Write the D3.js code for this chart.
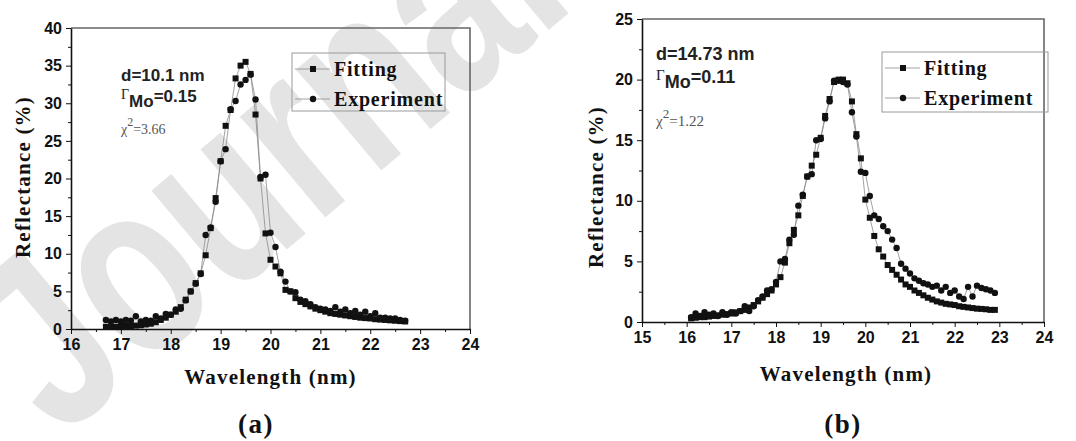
<!DOCTYPE html>
<html>
<head>
<meta charset="utf-8">
<script src="https://cdn.jsdelivr.net/npm/d3@7/dist/d3.min.js"></script>
<style>
  body { margin: 0; background: #fff; }
  svg { display: block; }
  .tick text { font-family: "Liberation Sans", Arial, sans-serif; font-weight: bold; font-size: 16px; fill: #111; }
  .axis path, .axis line { stroke: #111; }
  .ttl { font-family: "Liberation Serif", "Times New Roman", serif; font-weight: bold; fill: #111; }
</style>
</head>
<body>
<svg id="chart" width="1076" height="441"></svg>
<script>
// ---- panel (a) data ----
const waveA = [16.7,16.8,16.9,17.0,17.1,17.2,17.3,17.4,17.5,17.6,17.7,17.8,17.9,18.0,18.1,18.2,18.3,18.4,18.5,18.6,
  18.7,18.8,18.9,19.0,19.1,19.2,19.3,19.4,19.5,19.6,19.7,19.8,19.9,20.0,20.1,20.2,20.3,20.4,20.5,20.6,
  20.7,20.8,20.9,21.0,21.1,21.2,21.3,21.4,21.5,21.6,21.7,21.8,21.9,22.0,22.1,22.2,22.3,22.4,22.5,22.6,22.7];
const fitA = [0.3,0.3,0.3,0.35,0.4,0.4,0.45,0.5,0.6,0.7,0.9,1.2,1.5,1.9,2.3,2.9,3.9,5.0,6.1,7.4,
  9.8,13.4,17.4,22.3,27.0,29.1,33.3,35.0,35.5,33.9,28.5,20.0,12.7,9.2,8.3,7.4,5.2,5.0,4.1,3.6,
  3.3,3.0,2.7,2.5,2.3,2.1,2.0,1.9,1.8,1.7,1.6,1.5,1.45,1.4,1.3,1.25,1.2,1.15,1.1,1.05,1.0];
const expA = [1.2,1.0,1.2,1.0,1.2,1.1,1.7,1.0,1.2,1.1,1.7,1.4,2.0,1.9,2.6,2.7,3.8,5.0,6.0,7.3,
  12.5,13.5,16.9,22.3,23.9,29.2,30.3,32.5,33.1,33.8,30.5,20.2,20.5,12.8,10.9,7.6,6.3,5.0,4.9,3.9,
  3.7,3.3,2.9,2.7,2.6,2.4,2.9,2.3,2.6,2.1,2.4,1.9,2.3,1.7,2.1,1.5,1.5,1.4,1.4,1.2,1.1];
const xTicksA = [16,17,18,19,20,21,22,23,24];
const yTicksA = [0,5,10,15,20,25,30,35,40];

// ---- panel (b) data ----
const waveB = [16.1,16.2,16.3,16.4,16.5,16.6,16.7,16.8,16.9,17.0,17.1,17.2,17.3,17.4,17.5,17.6,17.7,17.8,17.9,18.0,
  18.1,18.2,18.3,18.4,18.5,18.6,18.7,18.8,18.9,19.0,19.1,19.2,19.3,19.4,19.5,19.6,19.7,19.8,19.9,20.0,
  20.1,20.2,20.3,20.4,20.5,20.6,20.7,20.8,20.9,21.0,21.1,21.2,21.3,21.4,21.5,21.6,21.7,21.8,21.9,22.0,
  22.1,22.2,22.3,22.4,22.5,22.6,22.7,22.8,22.9];
const fitB = [0.3,0.35,0.4,0.4,0.45,0.5,0.55,0.6,0.65,0.7,0.8,0.9,1.0,1.2,1.4,1.7,2.0,2.3,2.6,3.1,
  3.7,4.9,6.5,7.6,8.8,10.4,12.0,12.9,13.8,15.2,17.0,18.4,19.8,20.0,20.0,19.7,18.2,15.5,13.5,10.1,
  8.6,7.1,6.0,5.4,4.7,4.3,3.9,3.5,3.1,2.9,2.6,2.4,2.2,2.0,1.85,1.7,1.6,1.5,1.45,1.4,
  1.3,1.25,1.2,1.15,1.1,1.08,1.05,1.0,1.0];
const expB = [0.4,0.7,0.5,0.8,0.6,0.7,0.5,0.8,0.6,0.8,0.7,0.9,1.3,0.9,1.3,1.8,2.1,2.6,2.7,3.3,
  5.0,5.2,6.8,7.2,9.6,10.5,12.0,12.2,15.0,15.1,16.8,18.2,19.9,19.9,19.8,19.6,17.3,15.3,12.4,12.3,
  10.4,8.8,8.5,7.9,7.5,6.8,6.1,4.8,4.4,4.0,3.6,3.4,3.2,3.1,2.9,3.0,2.6,2.9,2.4,2.6,
  2.1,1.9,2.9,2.1,3.0,2.8,2.7,2.6,2.4];
const xTicksB = [15,16,17,18,19,20,21,22,23,24];
const yTicksB = [0,5,10,15,20,25];

const seriesNames = ["Fitting", "Experiment"];

const svg = d3.select("#chart");
svg.append("rect").attr("width", 1076).attr("height", 441).attr("fill", "#fff");

// watermark behind everything (cut by the top edge like the original)
svg.append("text")
  .attr("transform", "translate(60,440) rotate(-40) scale(0.75,1)")
  .attr("font-family", "Liberation Sans, Arial, sans-serif")
  .attr("font-weight", "bold")
  .attr("font-size", 250)
  .attr("fill", "#e4e4e4")
  .text("Journal");

function drawPanel(p) {
  const x = d3.scaleLinear().domain(d3.extent(p.xTicks)).range([p.left, p.right]);
  const y = d3.scaleLinear().domain(d3.extent(p.yTicks)).range([p.bottom, p.top]);
  const g = svg.append("g");

  // gray frame top/right
  g.append("path")
    .attr("d", `M${p.left},${p.top}H${p.right}V${p.bottom}`)
    .attr("fill", "none").attr("stroke", "#666").attr("stroke-width", 1.6);

  // minor ticks
  const xMinor = p.xTicks.slice(0, -1).map(v => v + 0.5);
  const yStep = p.yTicks[1] - p.yTicks[0];
  const yMinor = p.yTicks.slice(0, -1).map(v => v + yStep / 2);
  g.append("g").attr("class", "axis").attr("transform", `translate(0,${p.bottom})`)
    .call(d3.axisBottom(x).tickValues(xMinor).tickSize(3).tickFormat(""))
    .call(a => a.select(".domain").remove());
  g.append("g").attr("class", "axis").attr("transform", `translate(${p.left},0)`)
    .call(d3.axisLeft(y).tickValues(yMinor).tickSize(3).tickFormat(""))
    .call(a => a.select(".domain").remove());

  // major axes
  g.append("g").attr("class", "axis").attr("transform", `translate(0,${p.bottom})`)
    .call(d3.axisBottom(x).tickValues(p.xTicks).tickSize(5).tickSizeOuter(0).tickPadding(5).tickFormat(d3.format("d")))
    .call(a => a.select(".domain").attr("stroke-width", 1.6));
  g.append("g").attr("class", "axis").attr("transform", `translate(${p.left},0)`)
    .call(d3.axisLeft(y).tickValues(p.yTicks).tickSize(5).tickSizeOuter(0).tickPadding(4).tickFormat(d3.format("d")))
    .call(a => a.select(".domain").attr("stroke-width", 1.6));

  // axis titles
  g.append("text").attr("class", "ttl")
    .attr("x", (p.left + p.right) / 2 + p.xTitleDx).attr("y", p.xTitleY)
    .attr("text-anchor", "middle").attr("font-size", 21).attr("letter-spacing", 1.2)
    .text("Wavelength (nm)");
  g.append("text").attr("class", "ttl")
    .attr("transform", `translate(${p.yTitleX},${p.yTitleCy}) rotate(-90)`)
    .attr("text-anchor", "middle").attr("font-size", 21).attr("letter-spacing", 1.2)
    .text("Reflectance (%)");

  // lines + markers
  const line = d3.line().x(d => x(d[0])).y(d => y(d[1]));
  const fitPts = p.wave.map((w, i) => [w, p.fit[i]]);
  const expPts = p.wave.map((w, i) => [w, p.exp[i]]);
  [fitPts, expPts].forEach(pts => {
    g.append("path").datum(pts).attr("d", line)
      .attr("fill", "none").attr("stroke", "#8a8a8a").attr("stroke-width", 0.8);
  });
  g.append("g").selectAll("rect").data(fitPts).join("rect")
    .attr("x", d => x(d[0]) - 3).attr("y", d => y(d[1]) - 3)
    .attr("width", 6).attr("height", 6).attr("fill", "#111");
  g.append("g").selectAll("circle").data(expPts).join("circle")
    .attr("cx", d => x(d[0])).attr("cy", d => y(d[1])).attr("r", 3.2).attr("fill", "#111");

  // legend
  const L = p.legend;
  g.append("rect").attr("x", L.x).attr("y", L.y).attr("width", L.w).attr("height", L.h)
    .attr("fill", "none").attr("stroke", "#9a9a9a").attr("stroke-width", 1);
  seriesNames.forEach((name, i) => {
    const cy = L.y + 16 + i * 30;
    g.append("line").attr("x1", L.x + 3).attr("x2", L.x + 38).attr("y1", cy).attr("y2", cy)
      .attr("stroke", "#8a8a8a").attr("stroke-width", 0.8);
    if (i === 0) {
      g.append("rect").attr("x", L.x + 18).attr("y", cy - 3).attr("width", 6).attr("height", 6).attr("fill", "#111");
    } else {
      g.append("circle").attr("cx", L.x + 21).attr("cy", cy).attr("r", 3.2).attr("fill", "#111");
    }
    g.append("text").attr("class", "ttl").attr("x", L.x + 42).attr("y", cy + 7)
      .attr("font-size", 20).attr("letter-spacing", 0.8).text(name);
  });

  // annotations
  const A = p.note;
  const sans = "Liberation Sans, Arial, sans-serif";
  g.append("text").attr("x", A.x).attr("y", A.y1)
    .attr("font-family", sans).attr("font-weight", "bold").attr("font-size", A.fs).attr("fill", "#222")
    .text(A.d);
  const t2 = g.append("text").attr("x", A.x).attr("y", A.y2)
    .attr("font-family", sans).attr("font-weight", "bold").attr("font-size", A.fs).attr("fill", "#222");
  t2.append("tspan").attr("font-family", "Liberation Serif, serif").attr("font-weight", "normal")
    .attr("font-size", A.fs - 3).attr("dy", -3).text("Γ");
  t2.append("tspan").attr("dy", 8).text("Mo");
  t2.append("tspan").attr("dy", -5).text(A.gamma);
  const t3 = g.append("text").attr("x", A.x).attr("y", A.y3)
    .attr("font-family", "Liberation Serif, serif").attr("font-size", A.fs - 3).attr("fill", "#555");
  t3.append("tspan").text("χ");
  t3.append("tspan").attr("dy", -8).attr("font-size", A.fs - 5).text("2");
  t3.append("tspan").attr("dy", 8).text(A.chi);

  // caption
  svg.append("text").attr("class", "ttl").attr("x", p.capX).attr("y", p.capY)
    .attr("text-anchor", "middle").attr("font-size", 27).attr("letter-spacing", 1.5)
    .text(p.caption);
}

drawPanel({
  left: 71, right: 470, top: 28, bottom: 329,
  xTicks: xTicksA, yTicks: yTicksA, wave: waveA, fit: fitA, exp: expA,
  xTitleY: 384, xTitleDx: 0, yTitleX: 30, yTitleCy: 177,
  legend: { x: 292, y: 53, w: 153, h: 58 },
  note: { x: 121, y1: 81, y2: 102, y3: 134, fs: 17, d: "d=10.1 nm", gamma: "=0.15", chi: "=3.66" },
  caption: "(a)", capX: 256, capY: 433
});

drawPanel({
  left: 642, right: 1044, top: 19, bottom: 322,
  xTicks: xTicksB, yTicks: yTicksB, wave: waveB, fit: fitB, exp: expB,
  xTitleY: 381, xTitleDx: 3, yTitleX: 603, yTitleCy: 187,
  legend: { x: 882, y: 52, w: 166, h: 60 },
  note: { x: 656, y1: 60, y2: 83, y3: 126, fs: 18, d: "d=14.73 nm", gamma: "=0.11", chi: "=1.22" },
  caption: "(b)", capX: 843, capY: 433
});
</script>
</body>
</html>
